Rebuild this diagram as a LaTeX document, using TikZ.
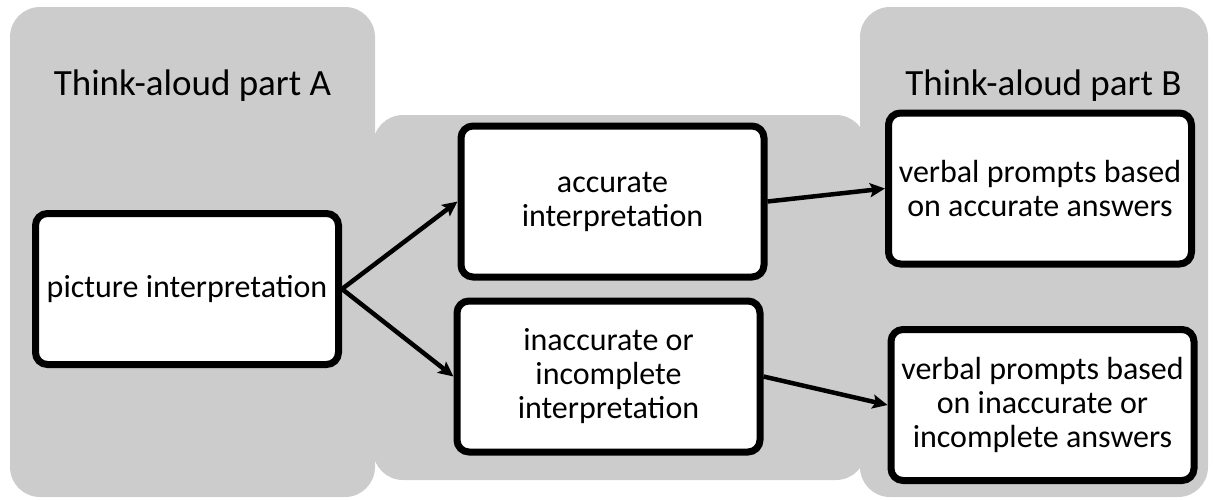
\documentclass[tikz,border=0pt]{standalone}
\usepackage{fontspec}
\setmainfont{Carlito}
\usetikzlibrary{arrows.meta,shadows}
\definecolor{panelgray}{RGB}{204,204,204}
\tikzset{
  panel/.style={fill=panelgray, draw=none, rounded corners=30pt},
  stepbox/.style={draw=black, fill=white, line width=7pt, rounded corners=12pt,
    minimum width=303pt, minimum height=151pt, inner sep=0pt, align=center,
    font=\fontsize{32}{34}\selectfont,
    drop shadow={opacity=0.25, shadow xshift=1.5pt, shadow yshift=-2.5pt}},
  title/.style={font=\fontsize{37}{40}\selectfont, anchor=base, inner sep=0pt},
  flow/.style={line width=4.5pt, -{Stealth[length=15pt,width=14pt,inset=3pt]}}
}
\begin{document}
\begin{tikzpicture}[x=1pt,y=-1pt]
\useasboundingbox (0,0) rectangle (1215,499);
% panels
\fill[panel] (10,7) rectangle (375,497);
\fill[panel] (373,115) rectangle (866,480);
\fill[panel] (860,7) rectangle (1208,497);
% titles
\node[title] (ta) at (192.5,95) {Think-aloud part A};
\node[title] (tb) at (1043.5,95) {Think-aloud part B};
% boxes
\node[stepbox] (pic) at (187,289) {picture interpretation};
\node[stepbox] (acc) at (612.5,201.5) {accurate\\interpretation};
\node[stepbox] (inacc) at (608.5,376.5) {inaccurate or\\incomplete\\interpretation};
\node[stepbox] (vacc) at (1040,188.5) {verbal prompts based\\on accurate answers};
\node[stepbox] (vinacc) at (1042.5,405) {verbal prompts based\\on inaccurate or\\incomplete answers};
% connectors
\draw[flow] (pic.east) -- (acc.west);
\draw[flow] (pic.east) -- (inacc.west);
\draw[flow] (acc.east) -- (vacc.west);
\draw[flow] (inacc.east) -- (vinacc.west);
\end{tikzpicture}
\end{document}
